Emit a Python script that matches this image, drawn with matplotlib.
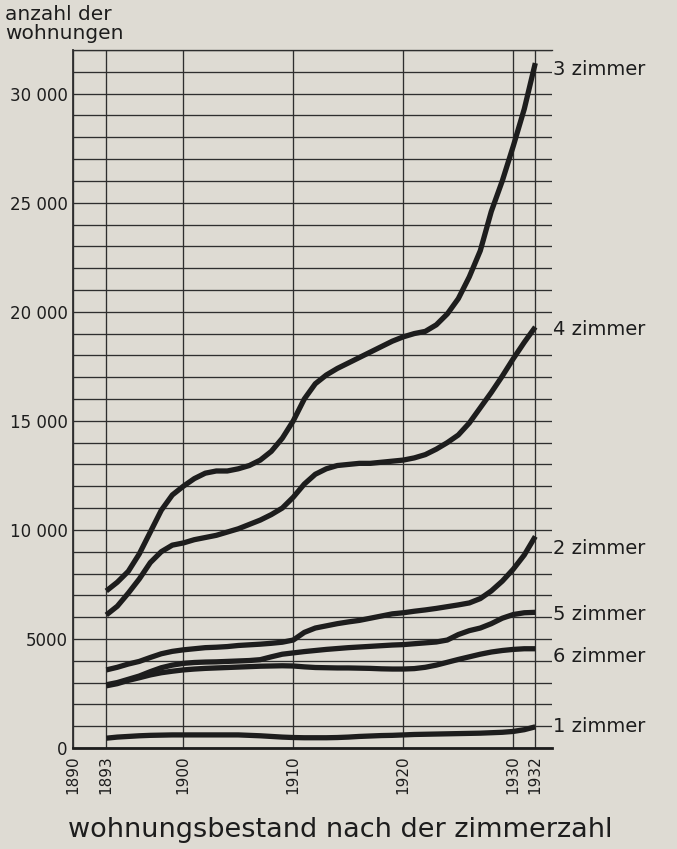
import matplotlib
matplotlib.use("Agg")
import matplotlib.pyplot as plt
from matplotlib.ticker import MultipleLocator, FixedLocator

years = list(range(1893, 1933))

zimmer_3 = [7.2, 7.6, 8.1, 8.9, 9.9, 10.9, 11.6, 12.0, 12.35, 12.6,
            12.7, 12.7, 12.8, 12.95, 13.2, 13.6, 14.2, 15.0, 16.0, 16.7,
            17.1, 17.4, 17.65, 17.9, 18.15, 18.4, 18.65, 18.85, 19.0, 19.1,
            19.4, 19.9, 20.6, 21.6, 22.8, 24.6, 26.0, 27.6, 29.3, 31.4]
zimmer_4 = [6.1, 6.5, 7.1, 7.75, 8.5, 9.0, 9.3, 9.4, 9.55, 9.65,
            9.75, 9.9, 10.05, 10.25, 10.45, 10.7, 11.0, 11.5, 12.1, 12.55,
            12.8, 12.95, 13.0, 13.05, 13.05, 13.1, 13.15, 13.2, 13.3, 13.45,
            13.7, 14.0, 14.35, 14.9, 15.6, 16.3, 17.05, 17.85, 18.6, 19.3]
zimmer_2 = [3.58, 3.7, 3.85, 3.97, 4.15, 4.32, 4.43, 4.5, 4.55, 4.6,
            4.62, 4.65, 4.7, 4.73, 4.76, 4.8, 4.85, 4.95, 5.3, 5.5,
            5.6, 5.7, 5.78, 5.85, 5.95, 6.05, 6.15, 6.2, 6.27, 6.33,
            6.4, 6.48, 6.56, 6.65, 6.85, 7.2, 7.65, 8.2, 8.85, 9.7]
zimmer_5 = [2.9, 3.0, 3.15, 3.3, 3.5, 3.68, 3.8, 3.88, 3.92, 3.94,
            3.95, 3.97, 3.99, 4.01, 4.05, 4.18, 4.3, 4.36, 4.42, 4.47,
            4.52, 4.56, 4.6, 4.63, 4.66, 4.69, 4.72, 4.74, 4.78, 4.82,
            4.86, 4.95, 5.2, 5.38, 5.5, 5.7, 5.95, 6.12, 6.2, 6.22]
zimmer_6 = [2.85, 2.95, 3.1, 3.22, 3.35, 3.45, 3.52, 3.58, 3.62, 3.65,
            3.67, 3.69, 3.71, 3.73, 3.75, 3.76, 3.77, 3.76, 3.72, 3.69,
            3.68, 3.67, 3.67, 3.66, 3.65, 3.63, 3.62, 3.62, 3.64, 3.7,
            3.8, 3.93, 4.06, 4.18, 4.3, 4.4, 4.47, 4.52, 4.55, 4.55]
zimmer_1 = [0.45, 0.5, 0.53, 0.56, 0.58, 0.59, 0.6, 0.6, 0.6, 0.6,
            0.6, 0.6, 0.6, 0.58, 0.56, 0.53, 0.5, 0.48, 0.47, 0.47,
            0.47, 0.48, 0.5, 0.53, 0.55, 0.57, 0.58, 0.6, 0.62, 0.63,
            0.64, 0.65, 0.66, 0.67, 0.68, 0.7, 0.72, 0.76, 0.84, 0.97]

series_names = ["3 zimmer", "4 zimmer", "2 zimmer", "5 zimmer", "6 zimmer", "1 zimmer"]
series_values = [zimmer_3, zimmer_4, zimmer_2, zimmer_5, zimmer_6, zimmer_1]

x_ticks = [1890, 1893, 1900, 1910, 1920, 1930, 1932]
y_ticks = [0, 5000, 10000, 15000, 20000, 25000, 30000]
y_tick_labels = ["0", "5000", "10 000", "15 000", "20 000", "25 000", "30 000"]

# label offsets in points (style only)
label_offsets = [-3, 0, -7, 0, -4, 2]

BG = "#dedbd3"
INK = "#1d1d1d"
GRID = "#2e2e2e"

W, H = 677, 849
fig = plt.figure(figsize=(W / 100, H / 100), dpi=100, facecolor=BG)
left_px, right_px, top_px, bottom_px = 73.3, 552, 50, 748
ax = fig.add_axes([left_px / W, 1 - bottom_px / H, (right_px - left_px) / W,
                   (bottom_px - top_px) / H])
ax.set_facecolor(BG)

px_per_year = 11.0
ax.set_xlim(1890, 1890 + (right_px - left_px) / px_per_year)
ax.set_ylim(0, 32000)

for vals in series_values:
    ax.plot(years, [v * 1000 for v in vals], color=INK, lw=3.8,
            solid_capstyle="butt", solid_joinstyle="round", zorder=3)

ax.xaxis.set_major_locator(FixedLocator(x_ticks))
ax.set_xticklabels([str(t) for t in x_ticks], rotation=90, fontsize=11,
                   color=INK, va="top")
ax.yaxis.set_major_locator(FixedLocator(y_ticks))
ax.yaxis.set_minor_locator(MultipleLocator(1000))
ax.set_yticklabels(y_tick_labels, fontsize=12, color=INK)
ax.tick_params(axis="both", which="both", length=0)
ax.tick_params(axis="x", pad=5)
ax.tick_params(axis="y", pad=4)

ax.grid(True, axis="y", which="both", color=GRID, lw=0.95, zorder=1)
ax.grid(True, axis="x", which="major", color=GRID, lw=0.95, zorder=1)
ax.set_axisbelow(True)

ax.spines["right"].set_visible(False)
ax.spines["top"].set_color(GRID)
ax.spines["top"].set_linewidth(0.95)
ax.spines["left"].set_color(GRID)
ax.spines["left"].set_linewidth(1.3)
ax.spines["bottom"].set_color(INK)
ax.spines["bottom"].set_linewidth(2.0)

for name, vals, off in zip(series_names, series_values, label_offsets):
    ax.annotate(name, xy=(1.0, vals[-1] * 1000),
                xycoords=("axes fraction", "data"),
                xytext=(1, off), textcoords="offset points",
                ha="left", va="center_baseline", fontsize=14, color=INK,
                annotation_clip=False)

fig.text(5 / W, 1 - 5 / H, "anzahl der\nwohnungen", ha="left", va="top",
         fontsize=14.5, color=INK, linespacing=1.0)

fig.text(340 / W, 1 - 830 / H, "wohnungsbestand nach der zimmerzahl",
         ha="center", va="center", fontsize=19.5, color=INK)

fig.savefig("out.png", dpi=100, facecolor=BG)
